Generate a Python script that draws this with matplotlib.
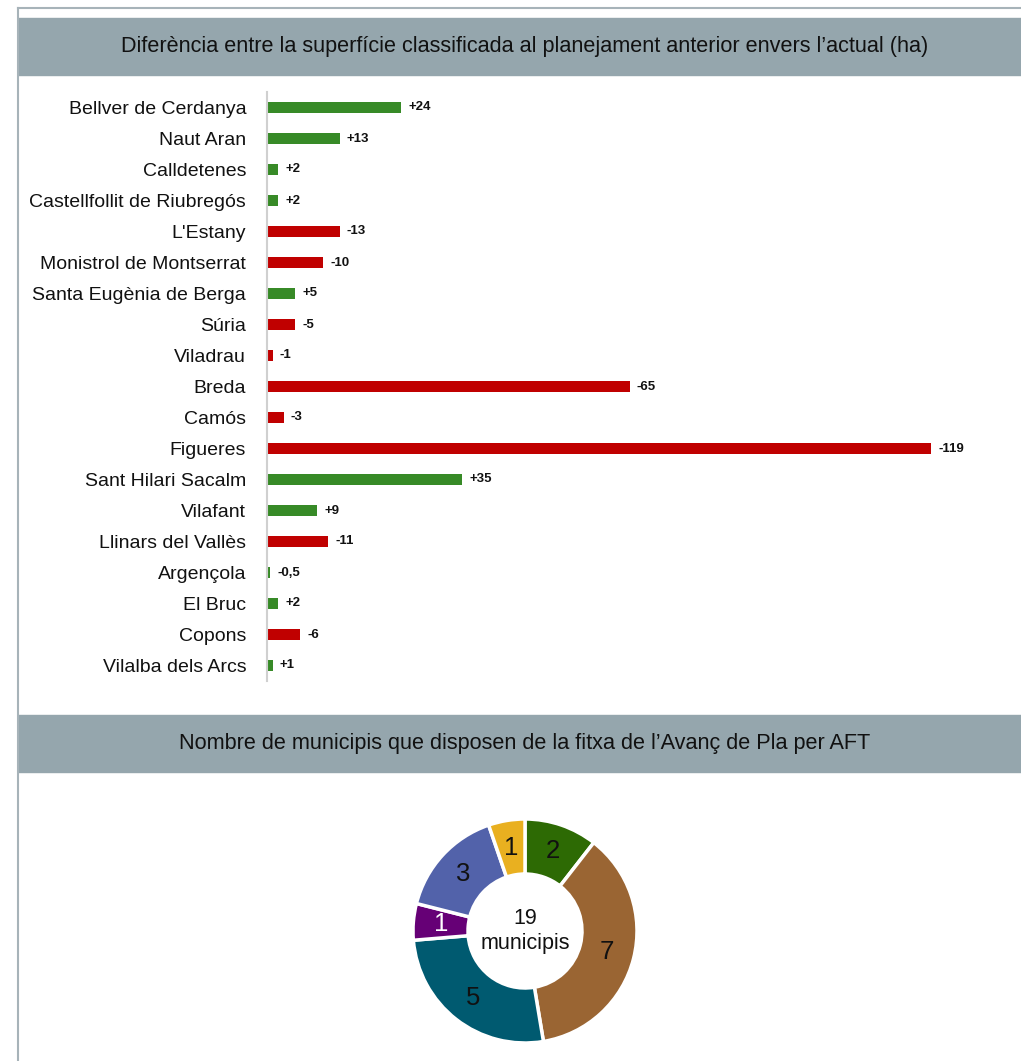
import matplotlib
matplotlib.use('Agg')
import matplotlib.pyplot as plt
import numpy as np

# dades
municipis = ["Bellver de Cerdanya", "Naut Aran", "Calldetenes", "Castellfollit de Riubregós",
             "L'Estany", "Monistrol de Montserrat", "Santa Eugènia de Berga", "Súria",
             "Viladrau", "Breda", "Camós", "Figueres", "Sant Hilari Sacalm", "Vilafant",
             "Llinars del Vallès", "Argençola", "El Bruc", "Copons", "Vilalba dels Arcs"]
diferencia = [24, 13, 2, 2, -13, -10, 5, -5, -1, -65, -3, -119, 35, 9, -11, -0.5, 2, -6, 1]
etiquetes = ["+24", "+13", "+2", "+2", "-13", "-10", "+5", "-5", "-1", "-65", "-3", "-119",
             "+35", "+9", "-11", "-0,5", "+2", "-6", "+1"]
# Argençola surt en verd a l'original
color_barra = ["g", "g", "g", "g", "r", "r", "g", "r", "r", "r", "r", "r", "g", "g", "r", "g", "g", "r", "g"]

aft_valors = [2, 7, 5, 1, 3, 1]
aft_colors = ["#2d6a04", "#9a6533", "#005a70", "#660076", "#5262aa", "#e9b020"]

W, H = 1021, 1061
plt.rcParams['font.family'] = ['Liberation Sans', 'DejaVu Sans']

fig = plt.figure(figsize=(W / 100, H / 100), dpi=100)
BAND = '#95a6ad'

def px(x0, y0, w, h):
    return [x0 / W, 1 - (y0 + h) / H, w / W, h / H]

# marc exterior
fig.add_artist(plt.Line2D([18 / W, 1], [1 - 8 / H, 1 - 8 / H], color='#a7b3b9', lw=1.5))
fig.add_artist(plt.Line2D([18 / W, 18 / W], [0, 1 - 8 / H], color='#a7b3b9', lw=1.5))

# bandes de titol
for y0, txt in [(18, "Diferència entre la superfície classificada al planejament anterior envers l’actual (ha)"),
                (715, "Nombre de municipis que disposen de la fitxa de l’Avanç de Pla per AFT")]:
    fig.add_artist(plt.Rectangle((18 / W, 1 - (y0 + 57) / H), 1, 57 / H, color=BAND,
                                 transform=fig.transFigure))
    fig.text(525 / W, 1 - (y0 + 28.5) / H, txt, ha='center', va='center', fontsize=15.6, color='#111111')

# grafic de barres
ax = fig.add_axes(px(267, 92, 733, 589))
y = np.arange(len(municipis))
magn = [abs(v) for v in diferencia]
cols = ['#378a27' if c == "g" else '#c00000' for c in color_barra]
ax.barh(y, magn, height=0.36, color=cols)
for yi, m, lab in zip(y, magn, etiquetes):
    ax.text(m + 1.3, yi, lab, va='center', ha='left', fontsize=9.5, fontweight='bold', color='#111111')
ax.set_ylim(len(municipis) - 0.5, -0.5)
ax.set_xlim(0, 131.4)
ax.set_yticks(y)
ax.set_yticklabels(municipis, fontsize=14, color='#111111')
ax.tick_params(axis='y', length=0, pad=15)
ax.set_xticks([])
for s in ['top', 'right', 'bottom']:
    ax.spines[s].set_visible(False)
ax.spines['left'].set_color('#d0d0d0')
ax.spines['left'].set_linewidth(1.5)
ax.set_facecolor('none')

# grafic d'anella
R = 120
pax = fig.add_axes(px(525 - R, 931 - R, 2 * R, 2 * R))
wedges, _ = pax.pie(aft_valors, colors=aft_colors, startangle=90, counterclock=False, radius=112 / R,
                    wedgeprops=dict(width=(112 - 57) / R, edgecolor='white', linewidth=2.5))
r_lab = (112 + 57) / 2 / R
total = sum(aft_valors)
ang0 = 90
for v, c in zip(aft_valors, aft_colors):
    mid = np.deg2rad(ang0 - 360 * v / total / 2)
    ang0 -= 360 * v / total
    tc = 'white' if c == "#660076" else '#111111'
    pax.text(r_lab * np.cos(mid), r_lab * np.sin(mid), str(v), ha='center', va='center',
             fontsize=18.5, color=tc)
pax.text(0, 0, "19\nmunicipis", ha='center', va='center', fontsize=15.5, color='#111111', linespacing=1.3)
pax.set_xlim(-1, 1)
pax.set_ylim(-1, 1)

fig.savefig('out.png', dpi=100)
